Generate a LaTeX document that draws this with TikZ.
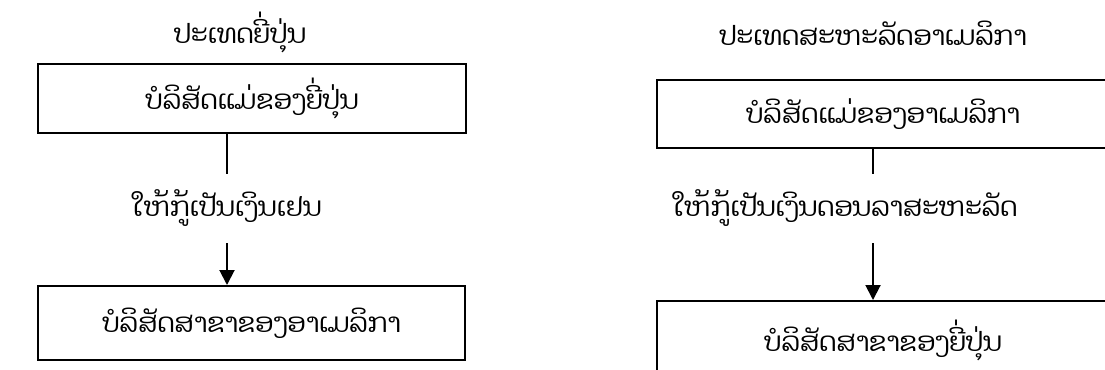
\documentclass[tikz,border=0pt]{standalone}
\usepackage{fontspec}
\newfontfamily\laofont[Script=Lao]{Dhyana}
\usetikzlibrary{arrows.meta, positioning}

\begin{document}
\begin{tikzpicture}[
  every node/.style={font=\laofont\fontsize{19}{23}\selectfont},
  box/.style={draw, line width=1.4pt, minimum height=1.8cm, inner sep=0pt},
  lbl/.style={minimum height=1.725cm, inner sep=0pt},
  arr/.style={-{Triangle[length=0.375cm, width=0.375cm]}, line width=1.4pt}
]
\useasboundingbox (0,0) rectangle (27.625,9.25);
\clip (0,0) rectangle (27.625,9.25);
% left: Japan
\node (ttlA) at (6.0, 8.45) {ປະເທດຍີ່ປຸ່ນ};
\node[box, minimum width=10.7cm, minimum height=1.725cm] (parentA) at (6.3, 6.7875) {ບໍລິສັດແມ່ຂອງຍີ່ປຸ່ນ};
\node[lbl] (loanA) at (5.675, 4.0375) {ໃຫ້ກູ້ເປັນເງິນເຢນ};
\node[box, minimum width=10.675cm, minimum height=1.85cm] (branchA) at (6.2875, 1.175) {ບໍລິສັດສາຂາຂອງອາເມລິກາ};
\draw[line width=1.4pt] (parentA.south -| loanA) -- (loanA.north);
\draw[arr] (loanA.south) -- (branchA.north -| loanA);
% right: United States
\node (ttlB) at (21.825, 8.425) {ປະເທດສະຫະລັດອາເມລິກາ};
\node[box, minimum width=11.3cm, minimum height=1.7cm] (parentB) at (22.075, 6.4) {ບໍລິສັດແມ່ຂອງອາເມລິກາ};
\node[lbl] (loanB) at (21.125, 4.0375) {ໃຫ້ກູ້ເປັນເງິນດອນລາສະຫະລັດ};
\node[box, minimum width=11.3cm, minimum height=1.95cm] (branchB) at (22.075, 0.75) {ບໍລິສັດສາຂາຂອງຍີ່ປຸ່ນ};
\coordinate (midB) at (21.825, 4.0375);
\draw[line width=1.4pt] (parentB.south -| midB) -- (loanB.north -| midB);
\draw[arr] (loanB.south -| midB) -- (branchB.north -| midB);
\end{tikzpicture}
\end{document}
